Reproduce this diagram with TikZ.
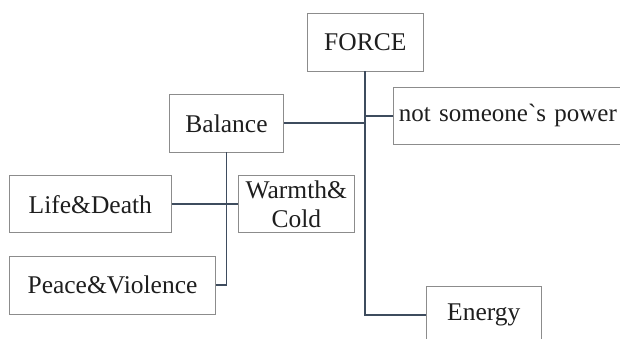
\documentclass[tikz,border=0pt]{standalone}
\usepackage{fontspec}
\setmainfont{Liberation Serif}
\newfontfamily\rawserif{Liberation Serif}[Ligatures=TeXOff]
\definecolor{boxgray}{HTML}{8C8C8C}
\definecolor{connblue}{HTML}{3E4C5E}
\definecolor{txt}{HTML}{1E1E1E}
\begin{document}
\begin{tikzpicture}[x=1pt,y=-1pt,
  box/.style={draw=boxgray, line width=0.9pt, inner sep=0pt, text=txt,
    font=\fontsize{25.5}{28.5}\selectfont, align=center},
  conn/.style={draw=connblue, line width=1.9pt}]
\useasboundingbox (0,0) rectangle (620,338);
\node[box, minimum width=115.5pt, minimum height=57.3pt] (force) at (365.3,42.3) {FORCE};
\node[box, anchor=west, minimum height=57pt, text width=230pt, inner xsep=5pt, align=left,
  font=\rawserif\fontsize{25}{28}\selectfont] (power) at (393.4,115.7) {not someone`s power};
\node[box, minimum width=114.7pt, minimum height=57.3pt] (balance) at (226.5,123.3) {Balance};
\node[box, minimum width=161.7pt, minimum height=57pt] (life) at (90.3,204.2) {Life\&Death};
\node[box, minimum width=116pt, minimum height=57pt] (warmth) at (296.3,204.2) {Warmth\&\\Cold};
\node[box, minimum width=206pt, minimum height=57.3pt] (peace) at (112.5,285.3) {Peace\&Violence};
\node[box, minimum width=115pt, minimum height=57.3pt] (energy) at (483.8,315.3) {Energy};
\draw[conn] (force.south) -- (force.south |- energy.west) -- (energy.west);
\draw[conn] (balance.east) -- (balance.east -| force.south);
\draw[conn] (power.west) -- (power.west -| force.south);
\draw[conn] (balance.south) -- (balance.south |- peace.east) -- (peace.east);
\draw[conn] (life.east) -- (warmth.west);
\end{tikzpicture}
\end{document}
